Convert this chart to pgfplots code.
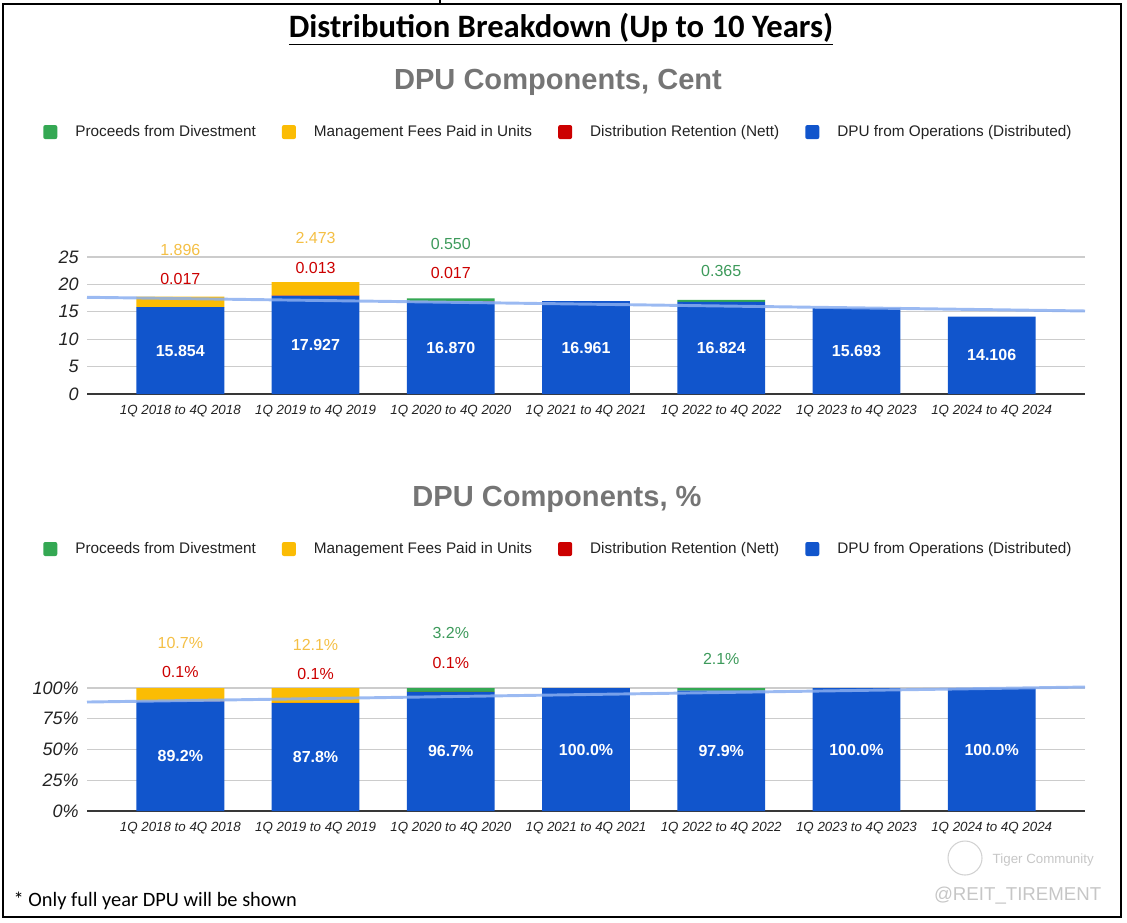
\documentclass[border=0pt]{standalone}
\usepackage{pgfplots}
\pgfplotsset{compat=1.18}
\usepackage{pgfplotstable}
\usepackage{fontspec}
\setmainfont{Liberation Sans}
\newfontfamily\calibri{Carlito}

\definecolor{dblue}{HTML}{1155CC}
\definecolor{dred}{HTML}{CC0000}
\definecolor{dyellow}{HTML}{FBBC04}
\definecolor{dgreen}{HTML}{34A853}
\definecolor{lyellow}{HTML}{F4BF45}
\definecolor{lgreen}{HTML}{3D9A5B}
\definecolor{trend}{HTML}{8AAEF0}
\definecolor{gridc}{HTML}{CCCCCC}
\definecolor{subt}{HTML}{757575}
\definecolor{tickc}{HTML}{222222}

\newcommand\lbl{\fontsize{12}{14}\selectfont}
\tikzset{inbar/.style={text=white, font=\lbl\bfseries}}

% DPU in cents
\pgfplotstableread{
x blue red yellow green
0 15.854 0.017 1.896 0
1 17.927 0.013 2.473 0
2 16.870 0.017 0 0.550
3 16.961 0 0 0
4 16.824 0 0 0.365
5 15.693 0 0 0
6 14.106 0 0 0
}\centtab

% DPU in percent
\pgfplotstableread{
x blue red yellow green
0 89.2 0.1 10.7 0
1 87.8 0.1 12.1 0
2 96.7 0.1 0 3.2
3 100 0 0 0
4 97.9 0 0 2.1
5 100 0 0 0
6 100 0 0 0
}\pcttab

\pgfplotsset{
  frame/.style={
    scale only axis, width=748.5pt,
    anchor=south west,
    xmin=-0.69, xmax=6.69, ymin=0,
    clip=false,
  },
  dpu/.style={
    frame,
    ybar stacked, bar width=0.65,
    xtick={0,...,6},
    xticklabels={1Q 2018 to 4Q 2018,1Q 2019 to 4Q 2019,1Q 2020 to 4Q 2020,
      1Q 2021 to 4Q 2021,1Q 2022 to 4Q 2022,1Q 2023 to 4Q 2023,1Q 2024 to 4Q 2024},
    ymajorgrids, grid style={gridc, line width=0.9pt},
    axis line style={draw=none}, major tick length=0pt,
    extra y ticks={0}, extra y tick labels={},
    extra y tick style={grid style={tickc!90, line width=1.5pt}},
    /pgf/number format/assume math mode=true,
    xticklabel style={font=\fontsize{10}{12}\selectfont\itshape, text=tickc, inner sep=0pt, yshift=-8pt},
    yticklabel style={font=\fontsize{13.5}{15}\selectfont\itshape, text=tickc, inner sep=0pt, xshift=-6pt},
    reverse legend,
    legend columns=-1,
    legend image code/.code={\fill[rounded corners=1.5pt] (0pt,-5.25pt) rectangle (10.5pt,5.25pt);},
    legend style={draw=none, fill=none, anchor=center,
      font=\fontsize{11.5}{13}\selectfont, text=tickc,
      nodes={inner sep=0pt},
      /tikz/every odd column/.append style={column sep=13.5pt},
      /tikz/every even column/.append style={column sep=19.5pt}},
  },
  over/.style={frame, hide axis},
  trendline/.style={no marks, draw=trend, opacity=0.85, line width=2.2pt},
}

\begin{document}
\begin{tikzpicture}
\begin{scope}[x=0.75pt,y=-0.75pt]
  \useasboundingbox (0,0) rectangle (1127,922);
  \draw[line width=1.6pt] (3,4) rectangle (1121,917);
  \draw[line width=0.8pt] (440,0) -- (440,4);
  \node at (561,29) {\calibri\bfseries\fontsize{24.5}{28}\selectfont\underline{Distribution Breakdown (Up to 10 Years)}};
  \node[text=subt] at (558,82) {\bfseries\fontsize{21.8}{24}\selectfont DPU Components, Cent};
  \node[text=subt] at (557,499) {\bfseries\fontsize{21.8}{24}\selectfont DPU Components, \%};
  \node[anchor=west] at (9,901) {\calibri\fontsize{15.3}{17}\selectfont * Only full year DPU will be shown};
  \draw[gray!35, line width=0.8pt] (965,858) circle (17);
  \node[anchor=west, text=gray!45] at (988,860) {\fontsize{10}{12}\selectfont Tiger Community};
  \node[anchor=east, text=gray!45] at (1106,896) {\fontsize{14}{16}\selectfont @REIT\_TIREMENT};
\end{scope}

% ---- DPU in cents ----
\begin{axis}[dpu, at={(65.25pt,-295.5pt)}, height=102.75pt, ymax=25,
  ytick={0,5,...,25},
  legend style={at={(axis description cs:0.4714,1.912)}}]
\addplot[fill=dblue, draw=none] table[x=x, y=blue] {\centtab};
\addlegendentry{DPU from Operations (Distributed)}
\addplot[fill=dred, draw=none] table[x=x, y=red] {\centtab};
\addlegendentry{Distribution Retention (Nett)}
\addplot[fill=dyellow, draw=none] table[x=x, y=yellow] {\centtab};
\addlegendentry{Management Fees Paid in Units}
\addplot[fill=dgreen, draw=none] table[x=x, y=green] {\centtab};
\addlegendentry{Proceeds from Divestment}
\end{axis}
\begin{axis}[over, at={(65.25pt,-295.5pt)}, height=102.75pt, ymax=25]
\addplot[trendline] coordinates {(-0.69,17.65) (6.69,15.15)};
\begin{scope}[font=\lbl]
  \node[inbar] at (axis cs:0,7.93) {15.854};
  \node[inbar] at (axis cs:1,8.96) {17.927};
  \node[inbar] at (axis cs:2,8.44) {16.870};
  \node[inbar] at (axis cs:3,8.48) {16.961};
  \node[inbar] at (axis cs:4,8.41) {16.824};
  \node[inbar] at (axis cs:5,7.85) {15.693};
  \node[inbar] at (axis cs:6,7.05) {14.106};
  \node[text=dred] at (axis cs:0,21.0) {0.017};
  \node[text=lyellow] at (axis cs:0,26.3) {1.896};
  \node[text=dred] at (axis cs:1,23.0) {0.013};
  \node[text=lyellow] at (axis cs:1,28.5) {2.473};
  \node[text=dred] at (axis cs:2,22.1) {0.017};
  \node[text=lgreen] at (axis cs:2,27.4) {0.550};
  \node[text=lgreen] at (axis cs:4,22.4) {0.365};
\end{scope}
\end{axis}

% ---- DPU in percent ----
\begin{axis}[dpu, at={(65.25pt,-608.25pt)}, height=92.25pt, ymax=100,
  ytick={0,25,50,75,100}, yticklabels={0\%,25\%,50\%,75\%,100\%},
  legend style={at={(axis description cs:0.4714,2.13)}}]
\addplot[fill=dblue, draw=none] table[x=x, y=blue] {\pcttab};
\addlegendentry{DPU from Operations (Distributed)}
\addplot[fill=dred, draw=none] table[x=x, y=red] {\pcttab};
\addlegendentry{Distribution Retention (Nett)}
\addplot[fill=dyellow, draw=none] table[x=x, y=yellow] {\pcttab};
\addlegendentry{Management Fees Paid in Units}
\addplot[fill=dgreen, draw=none] table[x=x, y=green] {\pcttab};
\addlegendentry{Proceeds from Divestment}
\end{axis}
\begin{axis}[over, at={(65.25pt,-608.25pt)}, height=92.25pt, ymax=100]
\addplot[trendline] coordinates {(-0.69,88.6) (6.69,100.8)};
\begin{scope}[font=\lbl]
  \node[inbar] at (axis cs:0,44.6) {89.2\%};
  \node[inbar] at (axis cs:1,43.9) {87.8\%};
  \node[inbar] at (axis cs:2,48.4) {96.7\%};
  \node[inbar] at (axis cs:3,50) {100.0\%};
  \node[inbar] at (axis cs:4,49) {97.9\%};
  \node[inbar] at (axis cs:5,50) {100.0\%};
  \node[inbar] at (axis cs:6,50) {100.0\%};
  \node[text=dred] at (axis cs:0,113) {0.1\%};
  \node[text=lyellow] at (axis cs:0,136.6) {10.7\%};
  \node[text=dred] at (axis cs:1,111.4) {0.1\%};
  \node[text=lyellow] at (axis cs:1,135) {12.1\%};
  \node[text=dred] at (axis cs:2,120.3) {0.1\%};
  \node[text=lgreen] at (axis cs:2,144.7) {3.2\%};
  \node[text=lgreen] at (axis cs:4,123.6) {2.1\%};
\end{scope}
\end{axis}
\end{tikzpicture}
\end{document}
